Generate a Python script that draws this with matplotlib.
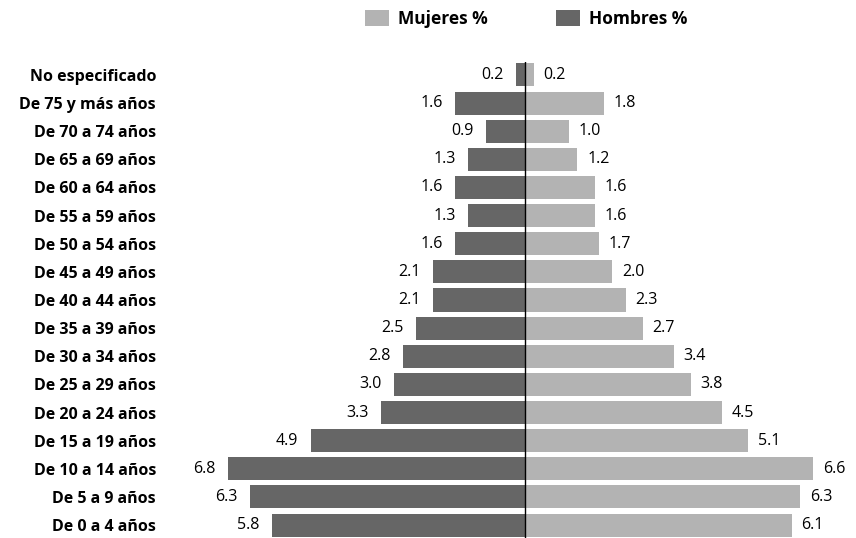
import numpy as np
import matplotlib.pyplot as plt

plt.rcParams['font.family'] = ['Open Sans', 'DejaVu Sans']

grupos = ["No especificado", "De 75 y más años", "De 70 a 74 años", "De 65 a 69 años",
          "De 60 a 64 años", "De 55 a 59 años", "De 50 a 54 años", "De 45 a 49 años",
          "De 40 a 44 años", "De 35 a 39 años", "De 30 a 34 años", "De 25 a 29 años",
          "De 20 a 24 años", "De 15 a 19 años", "De 10 a 14 años", "De 5 a 9 años",
          "De 0 a 4 años"]
hombres = [0.2, 1.6, 0.9, 1.3, 1.6, 1.3, 1.6, 2.1, 2.1, 2.5, 2.8, 3.0, 3.3, 4.9, 6.8, 6.3, 5.8]
mujeres = [0.2, 1.8, 1.0, 1.2, 1.6, 1.6, 1.7, 2.0, 2.3, 2.7, 3.4, 3.8, 4.5, 5.1, 6.6, 6.3, 6.1]

c_h = '#666666'
c_m = '#b3b3b3'

fig = plt.figure(figsize=(8.56, 5.38), dpi=100)
W, H = 856, 538
ax = fig.add_axes([170/W, 0, 675/W, 476/H])

n = len(grupos)
y = np.arange(n)[::-1]
ax.barh(y, -np.array(hombres), height=0.82, color=c_h, label='Hombres %')
ax.barh(y, mujeres, height=0.82, color=c_m, label='Mujeres %')

for yi, h, m in zip(y, hombres, mujeres):
  ax.annotate(f"{h:.1f}", (-h, yi), xytext=(-9, 0), textcoords='offset points',
              ha='right', va='center', fontsize=11.5)
  ax.annotate(f"{m:.1f}", (m, yi), xytext=(7, 0), textcoords='offset points',
              ha='left', va='center', fontsize=11.5)

ax.axvline(0, color='black', lw=1)

ax.set_xlim(-(525-170)/43.7, (845-525)/43.7)
ax.set_ylim(-0.46, 16.46)
ax.set_yticks(y)
ax.set_yticklabels(grupos, fontweight='bold', fontsize=11.5)
ax.tick_params(axis='y', length=0, pad=10)
ax.set_xticks([])
for s in ax.spines.values():
  s.set_visible(False)

h_handles, h_labels = ax.get_legend_handles_labels()
fig.legend(h_handles[::-1], h_labels[::-1], loc='center', bbox_to_anchor=(526/W, 1-19/H),
           ncol=2, frameon=False, prop={'weight': 'bold', 'size': 12.5},
           handlelength=1.38, handleheight=1.03, handletextpad=0.52, columnspacing=3.9)

fig.savefig('out.png', dpi=100)
plt.close()
